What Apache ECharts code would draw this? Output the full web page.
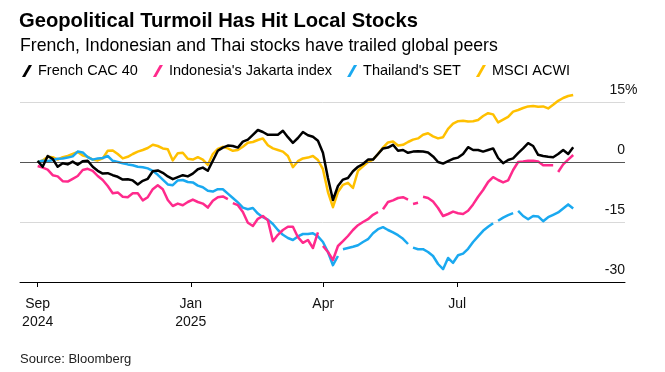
<!DOCTYPE html>
<html>
<head>
<meta charset="utf-8">
<script src="https://cdn.jsdelivr.net/npm/echarts@6/dist/echarts.min.js"></script>
<style>html,body{margin:0;padding:0;background:#fff}#c{width:665px;height:372px}</style>
</head>
<body>
<div id="c"></div>
<script>
// Sampling: one value every stepDays calendar days starting at startDate
const startDate = '2024-09-19';
const stepDays = 3.4;
const axisStart = '2024-09-07';
const axisEnd = '2025-10-23';
const tickDates = ['2024-09-19', '2025-01-01', '2025-04-01', '2025-07-01'];
const tickLabels = ['Sep\n2024', 'Jan\n2025', 'Apr', 'Jul'];
const yTicks = [-30, -15, 0, 15];
const seriesNames = ['French CAC 40', "Indonesia's Jakarta index", "Thailand's SET", 'MSCI ACWI'];

const cac40 = [0.25,-1.2,1.5,0.8,-1.2,-0.3,-0.6,0.1,-0.7,0.2,
  0.3,-1.2,-2.2,-2.9,-2.8,-3.3,-3.7,-4.4,-4.3,-4.6,
  -5.6,-4.7,-4.2,-2.3,-2.1,-2.7,-3.6,-4.3,-3.8,-3.3,
  -3.6,-2.9,-1.8,-1.4,-2.2,0.3,2.8,3.6,4.1,4.0,
  3.6,5.1,5.6,6.8,8.0,7.5,6.8,6.8,6.8,7.8,
  6.2,4.8,6.0,7.5,6.7,6.3,5.3,2.3,-4.0,-9.5,
  -6.0,-4.4,-4.0,-2.3,-1.2,-0.5,0.6,0.6,2.0,3.4,
  3.6,4.3,2.8,3.0,2.3,2.6,2.7,2.6,2.4,1.4,
  0.0,-0.4,0.2,0.8,1.1,2.0,3.7,3.0,3.0,2.6,
  3.0,3.4,1.0,-0.3,0.5,0.9,2.2,3.4,4.7,4.0,
  1.8,1.5,1.3,1.2,2.0,3.0,2.0,3.7];

const jakarta = [-1.0,-1.4,-1.9,-3.3,-3.6,-4.8,-4.9,-4.2,-3.5,-2.0,
  -1.7,-2.2,-3.5,-4.5,-6.0,-7.8,-7.6,-8.7,-8.8,-7.8,
  -7.8,-9.6,-8.8,-6.8,-5.8,-6.8,-9.5,-11.0,-10.4,-10.8,
  -10.0,-9.4,-10.0,-10.4,-11.4,-9.7,-8.8,-8.6,-9.3,-10.3,
  -10.8,-12.5,-15.2,-16.0,-14.2,-13.5,-14.6,-19.8,-18.2,-17.0,
  -16.2,-16.2,-18.8,-20.2,-19.5,-21.5,-17.6,-21.0,-22.5,-24.5,
  -21.0,-19.8,-18.5,-17.0,-15.8,-15.0,-14.3,-13.2,-12.5,-11.8,
  -10.0,-9.6,-9.0,-8.8,-9.4,-10.5,-10.2,-8.7,-9.0,-9.9,
  -11.5,-13.5,-13.0,-12.4,-12.8,-13.0,-12.2,-10.6,-8.7,-7.0,
  -5.0,-3.8,-4.5,-5.1,-4.6,-2.0,0.0,0.1,0.3,0.3,
  0.1,-0.8,-0.8,-0.8,-2.5,-0.6,0.6,1.75];
// market holidays: the line breaks right after these sample indexes
const jakartaBreaks = [38, 56, 68, 74, 76, 103];

const thaiSet = [0.0,0.3,0.2,0.5,0.8,0.9,1.1,1.4,2.6,2.4,
  1.2,0.6,0.9,1.0,1.5,0.3,0.0,-0.3,-0.6,-0.8,
  -1.2,-1.3,-1.6,-2.2,-3.2,-4.4,-5.6,-5.8,-4.6,-4.5,
  -5.0,-5.1,-5.9,-6.3,-7.2,-7.4,-6.8,-6.8,-7.9,-9.0,
  -10.1,-11.4,-11.8,-11.5,-12.9,-13.8,-14.4,-15.5,-17.0,-18.2,
  -19.0,-19.5,-18.6,-18.0,-18.0,-17.8,-18.6,-20.0,-22.5,-25.8,
  -23.5,-21.8,-21.5,-21.2,-20.8,-20.0,-19.3,-17.8,-16.8,-16.3,
  -17.0,-17.6,-18.3,-19.2,-20.5,-21.4,-21.8,-21.8,-22.5,-23.5,
  -25.5,-26.8,-24.0,-25.2,-23.3,-22.9,-21.7,-20.0,-18.6,-17.2,
  -16.2,-15.3,-14.7,-13.9,-13.3,-12.8,-12.2,-13.5,-14.3,-13.5,
  -13.6,-14.8,-13.8,-13.2,-12.6,-11.6,-10.6,-11.6];
const thaiSetBreaks = [60, 74, 91, 95];

const acwi = [0.0,0.4,1.3,1.2,0.6,1.2,1.5,2.0,2.5,1.6,
  1.3,0.6,0.4,0.9,2.8,2.9,2.0,0.9,1.3,2.0,
  2.6,3.0,3.5,4.3,4.0,3.4,3.2,0.4,2.2,2.3,
  0.8,0.6,1.2,0.6,-0.7,2.0,3.3,3.8,3.4,2.8,
  3.0,3.8,4.8,5.0,5.5,5.9,4.2,3.4,3.0,2.6,
  1.5,-1.3,0.2,0.9,1.1,1.5,0.5,-1.8,-7.5,-11.3,
  -7.5,-5.7,-5.2,-6.5,-2.2,-1.1,0.0,0.6,2.0,3.6,
  4.9,5.1,4.1,4.3,5.0,5.6,5.9,6.8,7.2,6.4,
  5.9,6.2,8.3,9.6,10.2,10.3,10.1,10.2,10.5,11.5,
  12.2,11.9,9.9,10.6,11.3,12.6,13.0,13.5,13.9,14.0,
  13.8,13.9,13.4,14.3,15.3,16.0,16.5,16.75];

const colors = { black: '#000000', pink: '#ff2a8c', blue: '#1aa9f0', yellow: '#ffc000' };

// x is measured in days since axisStart
const DAY = 86400000;
const ts = d => Date.parse(d + 'T00:00:00Z');
const dayOf = d => (ts(d) - ts(axisStart)) / DAY;
const x0 = dayOf(startDate);
const xMax = dayOf(axisEnd);
const pairs = (arr, breaks) => {
  const out = [];
  arr.forEach((v, i) => {
    out.push([x0 + i * stepDays, v]);
    if (breaks && breaks.indexOf(i) >= 0) out.push([x0 + (i + 0.5) * stepDays, null]);
  });
  return out;
};
const tickDays = tickDates.map(dayOf);
const labelFor = v => {
  const k = tickDays.findIndex(t => Math.abs(t - v) < 0.01);
  return k < 0 ? '' : tickLabels[k];
};

const font = "'Liberation Sans', Arial, Helvetica, sans-serif";
const pctW = 12.5; // width reserved for the "%" sign hanging past the gridlines

const lineSeries = (name, data, breaks, color, z) => ({
  name, type: 'line', data: pairs(data, breaks), showSymbol: false, symbol: 'none',
  connectNulls: false, clip: false, z,
  lineStyle: { color, width: 2.5, join: 'round' },
  itemStyle: { color }, emphasis: { disabled: true }
});

const chart = echarts.init(document.getElementById('c'), null, { renderer: 'canvas' });
chart.setOption({
  animation: false,
  backgroundColor: '#ffffff',
  textStyle: { fontFamily: font },
  title: [
    { text: 'Geopolitical Turmoil Has Hit Local Stocks', left: 19, top: 9, padding: 0,
      textStyle: { fontSize: 20.2, fontWeight: 'bold', color: '#000', fontFamily: font, lineHeight: 24 } },
    { text: 'French, Indonesian and Thai stocks have trailed global peers', left: 20, top: 36, padding: 0,
      textStyle: { fontSize: 17.7, fontWeight: 'normal', color: '#000', fontFamily: font, lineHeight: 21 } },
    { text: 'Source: Bloomberg', left: 20, top: 351, padding: 0,
      textStyle: { fontSize: 13, fontWeight: 'normal', color: '#222', fontFamily: font, lineHeight: 16 } }
  ],
  legend: {
    data: seriesNames, left: 22, top: 63, padding: 0, selectedMode: false,
    itemWidth: 12, itemHeight: 12, itemGap: 15,
    icon: 'path://M0,12 L3.2,12 L10,0 L6.8,0 Z',
    textStyle: { fontSize: 14.5, color: '#000', fontFamily: font, lineHeight: 16 }
  },
  grid: { left: 20, right: 40, top: 102, bottom: 90, containLabel: false },
  xAxis: {
    type: 'value', min: 0, max: xMax,
    axisLine: { show: true, onZero: false, lineStyle: { color: '#000', width: 1 } },
    axisTick: { show: true, customValues: tickDays, length: 5, lineStyle: { color: '#000', width: 1 } },
    axisLabel: { customValues: tickDays, formatter: labelFor, fontSize: 14, color: '#111',
      lineHeight: 18, margin: 13, align: 'center', fontFamily: font },
    splitLine: { show: false }
  },
  yAxis: {
    type: 'value', position: 'right', min: -30, max: 15, interval: 15,
    axisLine: { show: false }, axisTick: { show: false },
    splitLine: { show: true, lineStyle: { color: '#d9d9d9', width: 1 } },
    axisLabel: {
      inside: true, margin: -pctW, fontSize: 14, color: '#111', fontFamily: font,
      verticalAlign: 'bottom', lineHeight: 16, padding: [0, 0, 4, 0],
      formatter: v => (yTicks.indexOf(v) < 0 ? '' : (v === 15 ? '{n|15}{p|%}' : '{n|' + v + '}{p| }')),
      rich: {
        n: { fontSize: 14, color: '#111', fontFamily: font, lineHeight: 16 },
        p: { width: pctW, fontSize: 14, color: '#111', fontFamily: font, lineHeight: 16 }
      }
    }
  },
  series: [
    { name: 'zero', type: 'line', data: [], z: 1, silent: true,
      markLine: { silent: true, symbol: ['none', 'none'], label: { show: false },
        lineStyle: { color: '#555', width: 1, type: 'solid' }, data: [{ yAxis: 0 }] } },
    lineSeries('MSCI ACWI', acwi, null, colors.yellow, 2),
    lineSeries("Thailand's SET", thaiSet, thaiSetBreaks, colors.blue, 3),
    lineSeries("Indonesia's Jakarta index", jakarta, jakartaBreaks, colors.pink, 4),
    lineSeries('French CAC 40', cac40, null, colors.black, 5)
  ]
});
</script>
</body>
</html>
